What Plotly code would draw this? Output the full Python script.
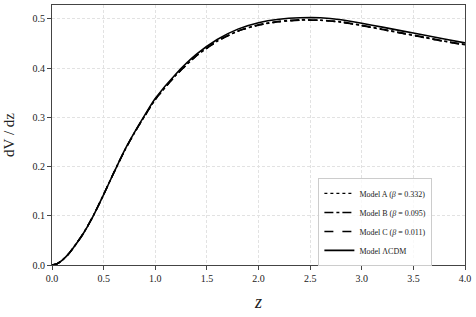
import plotly.graph_objects as go

z = [0.0, 0.05, 0.1, 0.15, 0.2, 0.3, 0.4, 0.5, 0.6, 0.7, 0.8, 0.9, 1.0, 1.2, 1.4, 1.6, 1.8,
     2.0, 2.2, 2.4, 2.6, 2.8, 3.0, 3.2, 3.4, 3.6, 3.8, 4.0]

lcdm = [0.0, 0.0025, 0.010, 0.020, 0.033, 0.063, 0.100, 0.143, 0.188, 0.232, 0.270, 0.305,
        0.338, 0.388, 0.428, 0.458, 0.479, 0.492, 0.499, 0.502, 0.502, 0.498, 0.491,
        0.483, 0.475, 0.467, 0.459, 0.451]

model_a = [0.0, 0.0025, 0.010, 0.020, 0.033, 0.063, 0.100, 0.143, 0.188, 0.231, 0.269, 0.303,
           0.336, 0.385, 0.425, 0.454, 0.475, 0.487, 0.494, 0.497, 0.497, 0.493, 0.486,
           0.478, 0.470, 0.462, 0.454, 0.447]

model_b = [0.0, 0.0025, 0.010, 0.020, 0.033, 0.063, 0.100, 0.143, 0.188, 0.231, 0.269, 0.304,
           0.336, 0.386, 0.425, 0.455, 0.475, 0.488, 0.495, 0.498, 0.497, 0.494, 0.487,
           0.479, 0.471, 0.463, 0.455, 0.448]

model_c = [0.0, 0.0025, 0.010, 0.020, 0.033, 0.063, 0.100, 0.143, 0.188, 0.231, 0.269, 0.303,
           0.336, 0.385, 0.425, 0.454, 0.475, 0.487, 0.494, 0.497, 0.497, 0.493, 0.486,
           0.478, 0.470, 0.462, 0.454, 0.447]

names = ["Model A (<i>β</i> = 0.332)", "Model B (<i>β</i> = 0.095)",
         "Model C (<i>β</i> = 0.011)", "Model ΛCDM"]
dashes = ["dot", "dashdot", "dash", "solid"]
widths = [1.3, 1.5, 1.5, 1.6]
series = [model_a, model_b, model_c, lcdm]

fig = go.Figure()
for name, d, w, s in zip(names, dashes, widths, series):
    fig.add_trace(go.Scatter(x=z, y=s, mode="lines", name=name,
                             line=dict(color="black", width=w, dash=d, shape="spline",
                                       smoothing=0.6)))

font = "Liberation Serif, DejaVu Serif, serif"
fig.update_layout(
    width=476, height=317,
    margin=dict(l=52, r=11, t=5, b=52),
    plot_bgcolor="white", paper_bgcolor="white",
    font=dict(family=font, color="#222", size=10),
    showlegend=True,
    legend=dict(x=0.645, y=0.335, xanchor="left", yanchor="top",
                bgcolor="rgba(255,255,255,0.8)", bordercolor="#cccccc", borderwidth=1,
                font=dict(size=8, family=font, color="#222"), itemwidth=30,
                tracegroupgap=0),
)
axis_common = dict(showline=True, linecolor="#444", linewidth=1.2, mirror=True,
                   ticks="outside", ticklen=4, tickcolor="#444", automargin=False,
                   showgrid=True, gridcolor="#e2e2e2", griddash="3px,2px", gridwidth=0.8,
                   zeroline=False, tickfont=dict(size=10, family=font, color="#222"))
fig.update_xaxes(range=[0, 4], dtick=0.5, tickformat=".1f",
                 title=dict(text="<i>z</i>", font=dict(size=18, family=font), standoff=12),
                 **axis_common)
fig.update_yaxes(range=[0, 0.528], dtick=0.1, tickformat=".1f",
                 title=dict(text="dV / dz", font=dict(size=15, family=font), standoff=14),
                 **axis_common)

fig.write_html("out.html", config={"displayModeBar": False},
               post_script="document.body.style.margin='0';document.body.style.overflow='hidden';")
